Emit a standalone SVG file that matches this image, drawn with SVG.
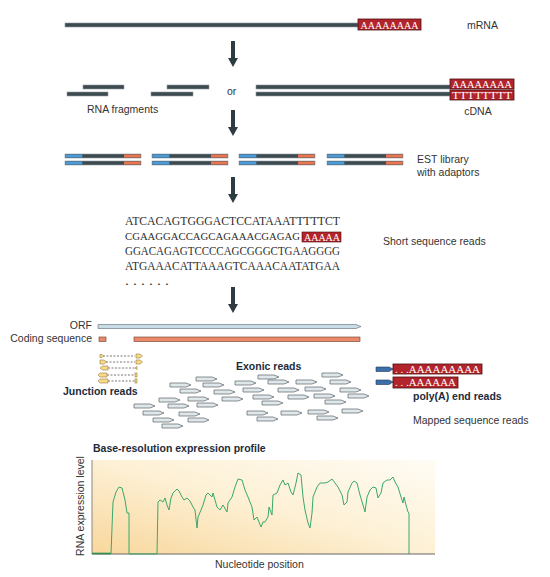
<svg xmlns="http://www.w3.org/2000/svg" width="550" height="577" viewBox="0 0 550 577">
<style>
.lbl{font-family:"Liberation Sans",Arial,sans-serif;font-size:10.5px;fill:#333}
.bld{font-family:"Liberation Sans",Arial,sans-serif;font-size:10.5px;font-weight:bold;fill:#1d2b3a}
.seq{font-family:"Liberation Serif","Times New Roman",serif;font-size:12.5px;fill:#2e2e2e}
.wseq{font-family:"Liberation Serif","Times New Roman",serif;font-size:11px;fill:#fff}
.bar{fill:#3d4a50;stroke:#8e9aa0;stroke-width:0.6}
.red{fill:#b3232b;stroke:#4a1010;stroke-width:0.8}
.blue{fill:#4c9bd8}
.orng{fill:#ea7550}
.arr{fill:#2f3b42}
.ex{fill:#dfe7ea;stroke:#5a6166;stroke-width:0.7}
.jn{fill:#f6d98a;stroke:#9c7d3a;stroke-width:0.6}
.dash{stroke:#555;stroke-width:0.8;stroke-dasharray:2 1.5;fill:none}
</style>
<defs>
<path id="exr" class="ex" d="M0,0 H16 L21,2 L16,4 H0 Z"/>
<g id="est">
<rect x="0" y="0" width="76" height="4" class="bar"/>
<rect x="0.3" y="0.5" width="17" height="3" class="blue"/>
<rect x="59" y="0.5" width="16.7" height="3" class="orng"/>
<rect x="0" y="7" width="76" height="4" class="bar"/>
<rect x="0.3" y="7.5" width="17" height="3" class="blue"/>
<rect x="59" y="7.5" width="16.7" height="3" class="orng"/>
</g>
<path id="down" class="arr" d="M-2,0 H2 V17 H5 L0,26 L-5,17 H-2 Z"/>
<linearGradient id="bg" x1="1" y1="0" x2="0" y2="1">
<stop offset="0" stop-color="#fffcf5"/>
<stop offset="0.5" stop-color="#fdf0d4"/>
<stop offset="1" stop-color="#f8d79c"/>
</linearGradient>
</defs>

<g id="connectors">
<use href="#down" x="233" y="41"/>
<use href="#down" x="233" y="110"/>
<use href="#down" x="233" y="177"/>
<use href="#down" x="233" y="287"/>
</g>

<g id="mrna">
<rect x="65" y="23" width="293" height="4" class="bar"/>
<rect x="358" y="19" width="63" height="11" class="red"/>
<text x="389.5" y="28.5" class="wseq" text-anchor="middle" textLength="58" lengthAdjust="spacingAndGlyphs">AAAAAAAA</text>
<text x="467" y="29" class="lbl">mRNA</text>
</g>

<g id="rna-fragments">
<rect x="83" y="85" width="41" height="4" class="bar"/>
<rect x="67" y="92" width="41" height="4" class="bar"/>
<rect x="167" y="85" width="42" height="4" class="bar"/>
<rect x="151" y="92" width="42" height="4" class="bar"/>
<text x="87" y="113" class="lbl">RNA fragments</text>
</g>
<text x="227" y="95" class="lbl">or</text>

<g id="cdna">
<rect x="256" y="85" width="194" height="4" class="bar"/>
<rect x="256" y="92" width="194" height="4" class="bar"/>
<rect x="450" y="79" width="64" height="10" class="red"/>
<rect x="450" y="90" width="64" height="10" class="red"/>
<text x="482" y="88" class="wseq" text-anchor="middle" textLength="60" lengthAdjust="spacingAndGlyphs">AAAAAAAA</text>
<text x="482" y="99" class="wseq" text-anchor="middle" textLength="60" lengthAdjust="spacingAndGlyphs">TTTTTTTT</text>
<text x="478" y="115" class="lbl" text-anchor="middle">cDNA</text>
</g>

<g id="est-library">
<use href="#est" x="65" y="154"/>
<use href="#est" x="152" y="154"/>
<use href="#est" x="239" y="154"/>
<use href="#est" x="327" y="154"/>
<text x="417" y="163" class="lbl">EST library</text>
<text x="417" y="176" class="lbl">with adaptors</text>
</g>

<g id="short-reads">
<text x="125" y="225" class="seq" textLength="215" lengthAdjust="spacingAndGlyphs">ATCACAGTGGGACTCCATAAATTTTTCT</text>
<text x="125" y="240" class="seq" style="font-size:10.8px" textLength="175" lengthAdjust="spacingAndGlyphs">CGAAGGACCAGCAGAAACGAGAG</text>
<rect x="302" y="232" width="39" height="10" fill="#b3232b" stroke="#4a1010" stroke-width="0.6"/>
<text x="304" y="240.5" class="wseq" textLength="36" lengthAdjust="spacingAndGlyphs">AAAAA</text>
<text x="125" y="255" class="seq" textLength="215" lengthAdjust="spacingAndGlyphs">GGACAGAGTCCCCAGCGGGCTGAAGGGG</text>
<text x="125" y="270" class="seq" textLength="215" lengthAdjust="spacingAndGlyphs">ATGAAACATTAAAGTCAAACAATATGAA</text>
<text x="125" y="285" class="seq" textLength="44" lengthAdjust="spacingAndGlyphs">. . . . . .</text>
<text x="383" y="245" class="lbl">Short sequence reads</text>
</g>

<g id="orf">
<path d="M98,324.5 H356 L361,326.5 L356,328.5 H98 Z" fill="#c8dde6" stroke="#6f7c82" stroke-width="0.7"/>
<text x="92" y="329" class="lbl" text-anchor="end">ORF</text>
</g>
<g id="coding-sequence">
<rect x="99" y="337" width="7" height="4.5" fill="#ea8a68" stroke="#6a3a2a" stroke-width="0.6"/>
<rect x="134" y="337" width="226" height="4.5" fill="#ea8a68" stroke="#6a3a2a" stroke-width="0.6"/>
<text x="92" y="342" class="lbl" text-anchor="end">Coding sequence</text>
</g>

<g id="junction-reads">
<path class="dash" d="M103,356 H135 M106,362 H135 M108,368 H136 M107,375 H136 M108,381 H136"/>
<path class="jn" d="M100,354.5 H102 L103.5,356 L102,357.5 H100 Z"/>
<path class="jn" d="M136,354 H140 L142.5,356 L140,358 H136 Z"/>
<path class="jn" d="M100,360 H104 L106.5,362 L104,364 H100 Z"/>
<path class="jn" d="M136,360 H140 L142.5,362 L140,364 H136 Z"/>
<path class="jn" d="M100,368 L102.5,366 H108 V370 H102.5 Z"/>
<path class="jn" d="M135,368 L137,366.5 V369.5 Z"/>
<path class="jn" d="M98,375 L100,373 H107 V377 H100 Z"/>
<rect class="jn" x="135" y="373" width="2" height="4"/>
<path class="jn" d="M98,381 L100,379 H108 V383 H100 Z"/>
<rect class="jn" x="135" y="379" width="2" height="4"/>
<text x="63" y="395" class="bld">Junction reads</text>
</g>

<g id="exonic-reads">
<use href="#exr" x="196" y="377"/><use href="#exr" x="170" y="383"/><use href="#exr" x="203" y="383"/>
<use href="#exr" x="180" y="389"/><use href="#exr" x="214" y="390"/><use href="#exr" x="159" y="398"/>
<use href="#exr" x="188" y="397"/><use href="#exr" x="222" y="397"/><use href="#exr" x="197" y="403"/>
<use href="#exr" x="134" y="404"/><use href="#exr" x="168" y="404"/><use href="#exr" x="143" y="411"/>
<use href="#exr" x="179" y="412"/><use href="#exr" x="153" y="418"/><use href="#exr" x="188" y="418"/>
<use href="#exr" x="162" y="424"/>
<use href="#exr" x="322" y="373"/><use href="#exr" x="258" y="375"/><use href="#exr" x="268" y="380"/>
<use href="#exr" x="296" y="380"/><use href="#exr" x="330" y="380"/><use href="#exr" x="235" y="381"/>
<use href="#exr" x="243" y="388"/><use href="#exr" x="278" y="388"/><use href="#exr" x="305" y="387"/>
<use href="#exr" x="340" y="388"/><use href="#exr" x="253" y="395"/><use href="#exr" x="288" y="395"/>
<use href="#exr" x="314" y="394"/><use href="#exr" x="348" y="394"/><use href="#exr" x="262" y="401"/>
<use href="#exr" x="325" y="400"/><use href="#exr" x="247" y="411"/><use href="#exr" x="281" y="411"/>
<use href="#exr" x="308" y="410"/><use href="#exr" x="342" y="409"/><use href="#exr" x="257" y="417"/>
<use href="#exr" x="317" y="416"/>
<text x="236" y="370" class="bld">Exonic reads</text>
</g>

<g id="polya-reads">
<path d="M376,367 H389 L393,369 L389,371.5 H376 Z" fill="#3d6fa8" stroke="#223a5a" stroke-width="0.6"/>
<path d="M376,380 H389 L393,382 L389,384.5 H376 Z" fill="#3d6fa8" stroke="#223a5a" stroke-width="0.6"/>
<rect x="393" y="364" width="89" height="10" class="red"/>
<rect x="393" y="377" width="65" height="11" class="red"/>
<text x="395" y="372.5" class="wseq" textLength="85" lengthAdjust="spacingAndGlyphs">. . .AAAAAAAAA</text>
<text x="395" y="386" class="wseq" textLength="61" lengthAdjust="spacingAndGlyphs">. . .AAAAAA</text>
<text x="413" y="400" class="bld">poly(A) end reads</text>
</g>
<text x="413" y="424" class="lbl">Mapped sequence reads</text>

<g id="expression-profile">
<text x="93" y="452" class="bld">Base-resolution expression profile</text>
<rect x="92" y="460" width="343" height="94" fill="url(#bg)"/>
<line x1="92" y1="460" x2="92" y2="554" stroke="#888" stroke-width="1"/>
<line x1="92" y1="554" x2="435" y2="554" stroke="#666" stroke-width="1"/>
<line x1="92" y1="553.5" x2="111" y2="553.5" stroke="#2e8a50" stroke-width="1.6"/>
<polyline fill="none" stroke="#3aa86b" stroke-width="1" points="111,554 113,502 116,492 119,487 122,488 125,500 127,513 129,513 129,554 157,554 158,502 160,500 163,502 165,498 167,505 169,510 171,498 173,493 177,489 179,491 182,497 184,500 187,498 190,501 193,507 195,510 197,528 198,517 201,510 203,505 206,495 208,493 212,497 213,493 217,507 220,510 223,505 227,512 228,503 232,497 235,487 238,479 242,480 245,490 248,497 252,507 254,520 257,517 259,522 261,527 263,522 265,522 268,517 269,507 272,515 273,495 277,493 280,485 283,480 285,485 288,483 291,492 293,495 296,483 298,473 301,475 303,497 305,510 308,523 310,528 312,513 313,497 317,487 320,483 325,483 328,482 332,479 335,483 338,487 342,495 344,505 347,502 348,492 352,483 354,481 357,483 360,495 363,505 365,512 367,497 370,490 373,487 376,488 378,498 381,493 383,483 387,480 390,480 393,477 395,482 398,487 401,497 403,503 404,497 406,505 408,512 409,513 409,554"/>
<text x="215" y="568" class="lbl">Nucleotide position</text>
<text transform="translate(84,506) rotate(-90)" class="lbl" text-anchor="middle">RNA expression level</text>
</g>
</svg>
